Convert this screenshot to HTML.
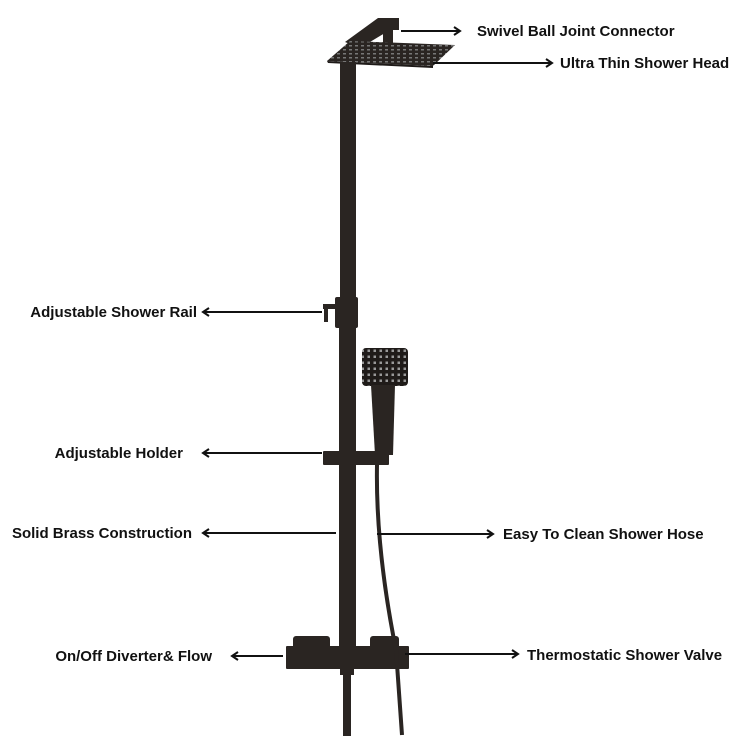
<!DOCTYPE html>
<html><head><style>
html,body{margin:0;padding:0;background:#fff;}
svg{display:block}
text{font-family:"Liberation Sans",sans-serif;font-weight:bold;font-size:15px;fill:#111;}
</style></head><body>
<svg width="750" height="750" viewBox="0 0 750 750" xmlns="http://www.w3.org/2000/svg">
<defs>
<pattern id="grid" width="6" height="4" patternUnits="userSpaceOnUse"><rect width="6" height="4" fill="#2a2522"/><rect x="1" y="1" width="3" height="1.5" fill="#777"/></pattern>
<pattern id="dots" width="6" height="6" patternUnits="userSpaceOnUse"><rect width="6" height="6" fill="#1f1b19"/><rect x="1.5" y="1.5" width="2.5" height="2.5" fill="#999"/></pattern>
</defs>
<g fill="#2a2522">
<polygon points="345,42 378,18 399,18 399,30 390,30 360,48"/>
<rect x="383" y="28" width="10" height="15"/>
<polygon points="327,61 350,41 455,45 433,66" fill="url(#grid)"/>
<polygon points="327,61 433,66 433,68 328,63" fill="#1e1a18"/>
<path d="M340,62 L356,62 L356,300 L340,300 Z"/>
<rect x="335" y="297" width="23" height="31" rx="2"/>
<rect x="323" y="304" width="13" height="5"/>
<rect x="324" y="304" width="4" height="18"/>
<rect x="339" y="328" width="17" height="320"/>
<rect x="362" y="348" width="46" height="38" rx="4" fill="url(#dots)"/>
<polygon points="371,385 395,385 393,455 375,455"/>
<rect x="323" y="451" width="66" height="14" rx="1"/>
<rect x="293" y="636" width="37" height="13" rx="3"/>
<rect x="370" y="636" width="29" height="13" rx="3"/>
<rect x="286" y="646" width="123" height="23" rx="1"/>
<rect x="341" y="640" width="13" height="8"/>
<rect x="340" y="667" width="14" height="8"/>
<rect x="343" y="674" width="8" height="62"/>
</g>
<path d="M377,465 C376,520 382,580 396,650 L402,735" stroke="#2a2522" stroke-width="4" fill="none"/>
<g stroke="#111" stroke-width="2" fill="none">
<line x1="401" y1="31" x2="459" y2="31"/>
<line x1="433" y1="63" x2="551" y2="63"/>
<line x1="205" y1="312" x2="322" y2="312"/>
<line x1="205" y1="453" x2="322" y2="453"/>
<line x1="205" y1="533" x2="336" y2="533"/>
<line x1="377" y1="534" x2="492" y2="534"/>
<line x1="234" y1="656" x2="283" y2="656"/>
<line x1="405" y1="654" x2="517" y2="654"/>
</g>
<g fill="none" stroke="#111" stroke-width="2">
<polyline points="454,27 460,31 454,35"/>
<polyline points="546,59 552,63 546,67"/>
<polyline points="209,308 203,312 209,316"/>
<polyline points="209,449 203,453 209,457"/>
<polyline points="209,529 203,533 209,537"/>
<polyline points="487,530 493,534 487,538"/>
<polyline points="238,652 232,656 238,660"/>
<polyline points="512,650 518,654 512,658"/>
</g>
<text x="477" y="36">Swivel Ball Joint Connector</text>
<text x="560" y="68">Ultra Thin Shower Head</text>
<text x="197" y="317" text-anchor="end">Adjustable Shower Rail</text>
<text x="183" y="458" text-anchor="end">Adjustable Holder</text>
<text x="192" y="538" text-anchor="end">Solid Brass Construction</text>
<text x="503" y="539">Easy To Clean Shower Hose</text>
<text x="212" y="661" text-anchor="end">On/Off Diverter&amp; Flow</text>
<text x="527" y="660">Thermostatic Shower Valve</text>
</svg>
</body></html>
